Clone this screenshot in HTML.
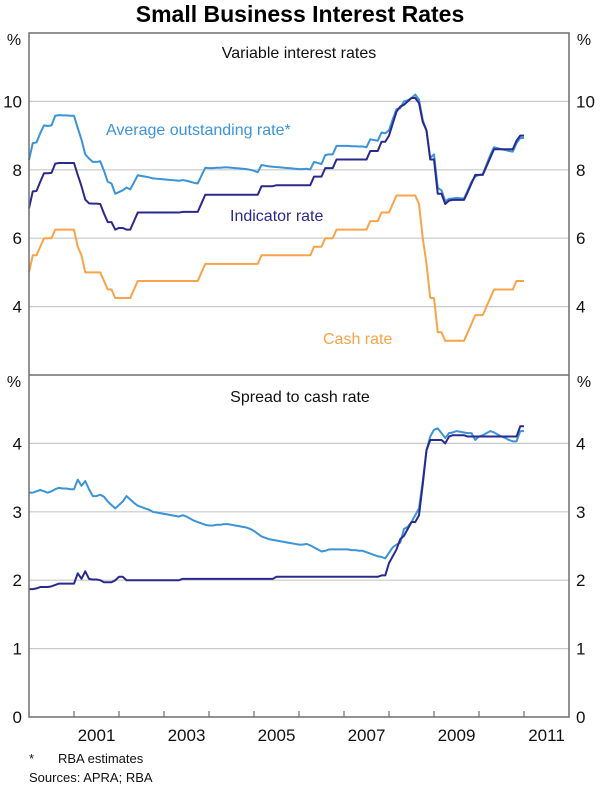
<!DOCTYPE html>
<html><head><meta charset="utf-8">
<style>
html,body{margin:0;padding:0;background:#fff;}
svg{display:block;font-family:"Liberation Sans",Arial,sans-serif;}
</style></head>
<body>
<svg id="chart" width="600" height="788" viewBox="0 0 600 788">
<text x="300" y="22" text-anchor="middle" font-size="23" font-weight="bold" fill="#000">Small Business Interest Rates</text>
</svg>
<script>
// Monthly data, Jan 2000 .. Jan 2011
const startYear = 2000;
const cash = [
5.0,5.5,5.5,5.75,6.0,6.0,6.0,6.25,6.25,6.25,6.25,6.25,
6.25,5.75,5.5,5.0,5.0,5.0,5.0,5.0,4.75,4.5,4.5,4.25,
4.25,4.25,4.25,4.25,4.5,4.75,4.75,4.75,4.75,4.75,4.75,4.75,
4.75,4.75,4.75,4.75,4.75,4.75,4.75,4.75,4.75,4.75,5.0,5.25,
5.25,5.25,5.25,5.25,5.25,5.25,5.25,5.25,5.25,5.25,5.25,5.25,
5.25,5.25,5.5,5.5,5.5,5.5,5.5,5.5,5.5,5.5,5.5,5.5,
5.5,5.5,5.5,5.5,5.75,5.75,5.75,6.0,6.0,6.0,6.25,6.25,
6.25,6.25,6.25,6.25,6.25,6.25,6.25,6.5,6.5,6.5,6.75,6.75,
6.75,7.0,7.25,7.25,7.25,7.25,7.25,7.25,7.0,6.0,5.25,4.25,
4.25,3.25,3.25,3.0,3.0,3.0,3.0,3.0,3.0,3.25,3.5,3.75,
3.75,3.75,4.0,4.25,4.5,4.5,4.5,4.5,4.5,4.5,4.75,4.75,
4.75];
const indSpread = [
1.87,
1.87,1.88,1.90,1.90,1.90,1.91,1.93,1.95,1.95,1.95,1.95,1.95,
2.10,2.02,2.13,2.02,2.01,2.01,2.00,1.97,1.97,1.97,2.00,2.05,
2.05,2.00,2.00,2.00,2.00,2.00,2.00,2.00,2.00,2.00,2.00,2.00,
2.00,2.00,2.00,2.00,2.02,2.02,2.02,2.02,2.02,2.02,2.02,2.02,
2.02,2.02,2.02,2.02,2.02,2.02,2.02,2.02,2.02,2.02,2.02,2.02,
2.02,2.02,2.02,2.02,2.02,2.05,2.05,2.05,2.05,2.05,2.05,2.05,
2.05,2.05,2.05,2.05,2.05,2.05,2.05,2.05,2.05,2.05,2.05,2.05,
2.05,2.05,2.05,2.05,2.05,2.05,2.05,2.05,2.05,2.07,2.07,2.25,
2.35,2.45,2.60,2.65,2.75,2.85,2.85,2.95,3.40,3.90,4.05,4.05,
4.05,4.05,4.00,4.10,4.12,4.12,4.12,4.12,4.10,4.10,4.10,4.10,
4.10,4.10,4.10,4.10,4.10,4.10,4.10,4.10,4.10,4.10,4.25,4.25];
const avgSpread = [
3.28,
3.28,3.30,3.32,3.30,3.28,3.30,3.33,3.35,3.34,3.34,3.33,3.33,
3.47,3.38,3.45,3.33,3.23,3.23,3.25,3.22,3.15,3.10,3.05,3.10,
3.15,3.23,3.18,3.13,3.09,3.07,3.05,3.03,3.00,2.99,2.98,2.97,
2.96,2.95,2.94,2.93,2.95,2.93,2.90,2.87,2.85,2.83,2.81,2.80,
2.80,2.81,2.81,2.82,2.82,2.81,2.80,2.79,2.78,2.77,2.75,2.72,
2.68,2.64,2.62,2.60,2.59,2.58,2.57,2.56,2.55,2.54,2.53,2.52,
2.52,2.53,2.51,2.48,2.45,2.42,2.43,2.45,2.45,2.45,2.45,2.45,
2.45,2.44,2.44,2.43,2.43,2.41,2.39,2.37,2.35,2.34,2.32,2.40,
2.48,2.52,2.55,2.75,2.78,2.85,2.95,3.05,3.45,3.90,4.10,4.20,
4.22,4.15,4.08,4.15,4.16,4.18,4.17,4.16,4.15,4.15,4.05,4.10,
4.12,4.15,4.18,4.16,4.13,4.10,4.08,4.05,4.03,4.03,4.18,4.18];
const topTicks = [4,6,8,10];
const botTicks = [0,1,2,3,4];
const yearLabels = ["2001","2003","2005","2007","2009","2011"];

const NS = "http://www.w3.org/2000/svg";
const svg = document.getElementById('chart');
const L = 29, R = 569, T1 = 33, B1 = 375, T2 = 375, B2 = 717;
const x0 = 2000, x1 = 2012;
function xs(yr){ return L + (yr - x0) / (x1 - x0) * (R - L); }
function yTop(v){ return B1 - (v - 2) / 10 * (B1 - T1); }
function yBot(v){ return B2 - (v - 0) / 5 * (B2 - T2); }
function dateOf(i){ return startYear + i / 12; }
function mk(tag, attrs){ const e = document.createElementNS(NS, tag); for (const k in attrs) e.setAttribute(k, attrs[k]); svg.appendChild(e); return e; }
function txt(x, y, s, size, anchor, fill){ const t = mk('text', {x:x, y:y, 'font-size':size, 'text-anchor':anchor, fill:fill}); t.textContent = s; return t; }

topTicks.forEach(v => {
  const g = mk('line', {x1:L, x2:R, y1:yTop(v), y2:yTop(v), stroke:'#c9c9c9', 'stroke-width':1.2});
  
  
  const a = txt(22, yTop(v) + 6, String(v), 17, 'end', '#111');
  
  
  const b = txt(576, yTop(v) + 6, String(v), 17, 'start', '#111');
  
  
});
botTicks.forEach(v => {
  if (v > 0) {
    const g = mk('line', {x1:L, x2:R, y1:yBot(v), y2:yBot(v), stroke:'#c9c9c9', 'stroke-width':1.2});
    
    
  }
  const a = txt(22, yBot(v) + 6, String(v), 17, 'end', '#111');
  
  
  const b = txt(576, yBot(v) + 6, String(v), 17, 'start', '#111');
  
  
});
[[14,45],[584,45],[14,387],[584,387]].forEach(p => {
  const t = txt(p[0], p[1], '%', 16, 'middle', '#111');
  
  
});

function line(vals, yf, color, name){
  const d = vals.map((v, i) => (i ? 'L' : 'M') + xs(dateOf(i)).toFixed(2) + ',' + yf(v).toFixed(2)).join('');
  const p = mk('path', {d:d, fill:'none', stroke:color, 'stroke-width':2, 'stroke-linejoin':'round'});
  
  
}
const indRate = cash.map((c, i) => c + indSpread[i]);
const avgRate = cash.map((c, i) => c + avgSpread[i]);
line(cash, yTop, '#f9a34a', 'cash-rate-line');
line(avgRate, yTop, '#3b93d8', 'average-outstanding-rate-line');
line(indRate, yTop, '#2a2a8e', 'indicator-rate-line');
line(avgSpread, yBot, '#3b93d8', 'average-outstanding-spread-line');
line(indSpread, yBot, '#2a2a8e', 'indicator-spread-line');

const fr = mk('rect', {x:L, y:T1, width:R-L, height:B2-T1, fill:'none', stroke:'#6e6e6e', 'stroke-width':1.5});


const dv = mk('line', {x1:L, x2:R, y1:B1, y2:B1, stroke:'#6e6e6e', 'stroke-width':1.5});



for (let yr = 2001; yr <= 2011; yr++) {
  const t = mk('line', {x1:xs(yr), x2:xs(yr), y1:B2, y2:B2-6, stroke:'#6e6e6e', 'stroke-width':1.2});
  
  
}
yearLabels.forEach(s => {
  const t = txt(xs(+s + 0.5), 741, s, 17, 'middle', '#111');
  
  
});

let t;
t = txt(299, 58, 'Variable interest rates', 16, 'middle', '#111');


t = txt(300, 402, 'Spread to cash rate', 16, 'middle', '#111');


t = txt(106, 135, 'Average outstanding rate*', 16, 'start', '#3b93d8');


t = txt(230, 221, 'Indicator rate', 16, 'start', '#2a2a8e');


t = txt(323, 344, 'Cash rate', 16, 'start', '#f9a34a');


t = txt(29, 763, '*', 13, 'start', '#111');


t = txt(58, 763, 'RBA estimates', 13, 'start', '#111');


t = txt(29, 782, 'Sources: APRA; RBA', 13, 'start', '#111');


</script>
</body></html>
